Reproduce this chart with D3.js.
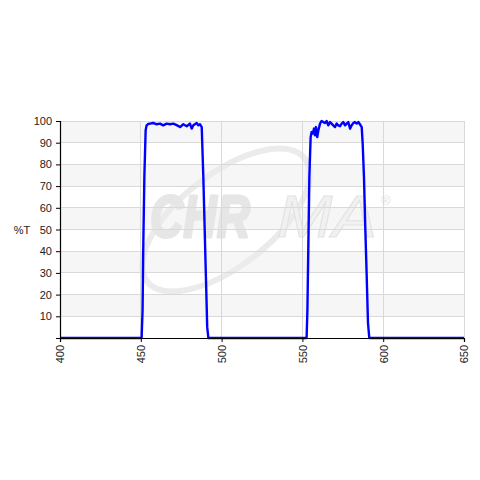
<!DOCTYPE html>
<html><head><meta charset="utf-8">
<script src="https://cdn.jsdelivr.net/npm/d3@7"></script>
<style>body{margin:0;background:#fff}svg{display:block}text{font-family:"Liberation Sans",Arial,sans-serif}</style>
</head><body>
<script>
const wavelengths = [400,450.5,451.1,451.5,452.2,453.0,453.6,454.6,455.7,457.7,459.8,461.9,463.9,466.0,468.1,470.1,472.2,474.3,476.3,478.4,480.4,481.5,482.5,484.6,485.6,486.6,487.7,488.7,490.3,491.1,491.8,
  552.6,553.1,553.7,554.3,555.1,555.7,556.4,557.2,557.8,558.4,559.2,559.9,560.9,561.9,563.0,564.0,565.0,566.0,567.1,568.1,569.1,570.2,571.2,572.2,573.3,574.3,575.3,576.4,577.4,578.4,579.5,580.5,581.5,582.5,583.6,584.6,585.6,586.7,587.3,588.1,588.9,589.8,590.6,591.4,650];
const transmission = [0,0,12.9,40.5,74.2,95.7,98.0,98.6,98.8,99.1,98.5,98.8,98.0,98.8,98.5,98.8,98.1,97.2,98.5,97.6,98.8,96.5,98.0,99.1,98.0,98.5,97.2,74.0,28.0,5.0,0,
  0,12.9,43.6,74.2,92.6,94.9,94.2,96.5,93.4,97.2,92.6,95.7,98.8,100.0,99.5,99.1,100.0,98.0,99.5,98.8,98.0,97.2,98.8,98.0,97.6,98.8,99.5,98.0,98.8,99.5,96.5,98.0,99.1,99.5,98.8,99.5,98.5,97.2,89.6,74.2,51.2,28.2,6.8,0,0];
const xTicks = [400,450,500,550,600,650];
const yTicks = [10,20,30,40,50,60,70,80,90,100];
const yLabel = "%T";

const W=480,H=480, L=60, R=464, T=121, B=338;
const svg = d3.select("body").append("svg").attr("width",W).attr("height",H);
const x = d3.scaleLinear().domain([400,650]).range([L,R]);
const y = d3.scaleLinear().domain([0,100]).range([B,T]);

// alternating bands
const bands = d3.range(0,100,10);
svg.append("g").selectAll("rect").data(bands).join("rect")
  .attr("x",L).attr("width",R-L)
  .attr("y",d=>y(d+10)).attr("height",d=>y(d)-y(d+10))
  .attr("fill",(d,i)=>i%2? "#f6f6f6":"#ffffff");

// watermark
const wm = svg.append("g");
wm.append("ellipse").attr("cx",226).attr("cy",220).attr("rx",100).attr("ry",46)
  .attr("transform","rotate(-38 226 220)").attr("fill","none").attr("stroke","#ebebeb").attr("stroke-width",6);
wm.append("text").attr("x",150).attr("y",237)
  .attr("font-size",60).attr("font-weight","bold").attr("font-style","italic")
  .attr("fill","#e6e6e6").attr("stroke","#e6e6e6").attr("stroke-width",3).attr("stroke-linejoin","round")
  .attr("textLength",100).attr("lengthAdjust","spacingAndGlyphs").text("CHR");
wm.append("text").attr("x",277).attr("y",237)
  .attr("font-size",60).attr("font-style","italic")
  .attr("fill","#f1f1f1").attr("stroke","#e2e2e2").attr("stroke-width",1)
  .attr("textLength",100).attr("lengthAdjust","spacingAndGlyphs").text("MA");
wm.append("text").attr("x",381).attr("y",205).attr("font-size",13).attr("fill","#e4e4e4").text("®");

// grid
svg.append("g").selectAll("line").data(yTicks).join("line")
  .attr("x1",L).attr("x2",R).attr("y1",d=>y(d)).attr("y2",d=>y(d))
  .attr("stroke","#d9d9d9").attr("stroke-width",1).attr("shape-rendering","crispEdges");
svg.append("g").selectAll("line").data(xTicks.slice(1)).join("line")
  .attr("x1",d=>x(d)).attr("x2",d=>x(d)).attr("y1",T).attr("y2",B)
  .attr("stroke","#d9d9d9").attr("stroke-width",1).attr("shape-rendering","crispEdges");

// line
const line = d3.line().x((d,i)=>x(wavelengths[i])).y(d=>y(d));
svg.append("path").datum(transmission).attr("d",line)
  .attr("fill","none").attr("stroke","#0000ff").attr("stroke-width",2.4).attr("stroke-linejoin","round");

// axes
const yAxis = svg.append("g").attr("transform",`translate(${L},0)`)
  .call(d3.axisLeft(y).tickValues(yTicks).tickSize(4).tickPadding(4));
const xAxis = svg.append("g").attr("transform",`translate(0,${B})`)
  .call(d3.axisBottom(x).tickValues(xTicks).tickSize(4).tickFormat(d3.format("d")));
[yAxis,xAxis].forEach(a=>{
  a.select(".domain").attr("stroke","#000").attr("stroke-width",1.2);
  a.selectAll(".tick line").attr("stroke","#000");
  a.selectAll("text").attr("font-size",11).attr("fill","#222").attr("font-family","'Liberation Sans',Arial,sans-serif");
});
xAxis.selectAll("text").attr("transform","rotate(-90)").attr("text-anchor","end")
  .attr("x",-7).attr("y",0).attr("dy","0.35em");
svg.append("text").attr("x",22).attr("y",y(50)+4).attr("text-anchor","middle")
  .attr("font-size",11).attr("fill","#222").text(yLabel);
</script>
</body></html>
